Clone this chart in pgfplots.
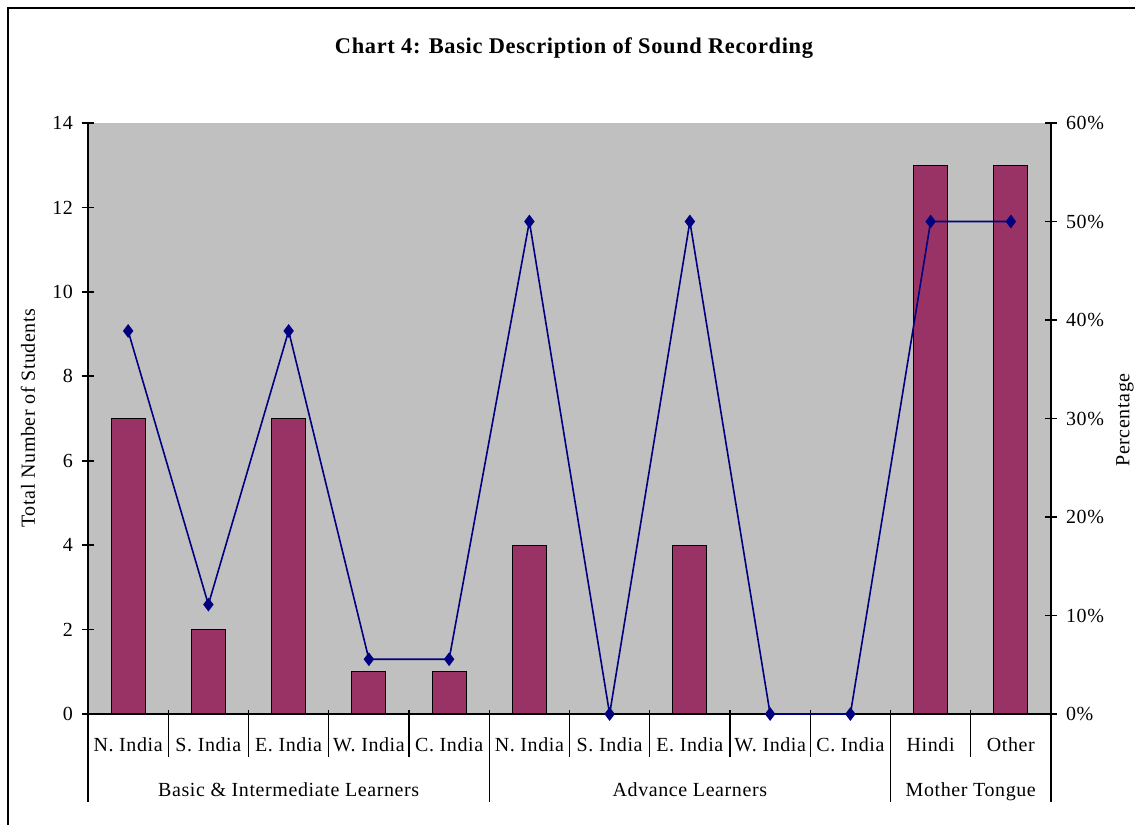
\documentclass[border=0pt]{standalone}
\usepackage{fontspec}
\setmainfont[LetterSpace=3]{Liberation Serif}
\usepackage{pgfplots}
\pgfplotsset{compat=1.18}
\definecolor{barc}{HTML}{993366}
\definecolor{linec}{HTML}{000080}
\definecolor{bg}{HTML}{C0C0C0}
\begin{document}
\begin{tikzpicture}[font=\fontsize{10}{12}\selectfont]
\useasboundingbox (0,0) rectangle (567.5pt,412.5pt);
\draw[line width=1pt] (4pt,0) -- (4pt,408.5pt) -- (567.5pt,408.5pt);
\node[font=\bfseries\fontsize{11.2}{13}\selectfont] at (287pt,388.5pt) {Chart 4: Basic Description of Sound Recording};
\node[rotate=90] at (14pt,203.5pt) {Total Number of Students};
\node[rotate=90] at (562.5pt,202.5pt) {Percentage};
\begin{axis}[
  at={(44pt,55.5pt)}, anchor=south west, scale only axis,
  width=481.5pt, height=295.5pt,
  xmin=-0.5, xmax=11.5, ymin=0, ymax=14,
  ytick={0,2,...,14}, xtick=\empty,
  axis y line*=left, axis x line*=bottom, axis line style={-, line width=0.8pt},
  axis background/.style={fill=bg},
  tick align=center, major tick length=6pt,
  tick style={black, line width=0.8pt},
  /pgf/number format/assume math mode=true,
  yticklabel style={font=\fontsize{10}{12}\selectfont, xshift=-1pt},
  clip=false,
]
\addplot[ybar, bar width=0.424, fill=barc, draw=black, line width=0.6pt] coordinates {
(0,7) (1,2) (2,7) (3,1) (4,1) (5,4) (6,0) (7,4) (8,0) (9,0) (10,13) (11,13)};
% separators
\draw[line width=0.6pt] (axis cs:-0.5,0) -- ([yshift=-44pt]axis cs:-0.5,0);
\draw[line width=0.6pt] ([yshift=2pt]axis cs:0.5,0) -- ([yshift=-21.5pt]axis cs:0.5,0);
\draw[line width=0.6pt] ([yshift=2pt]axis cs:1.5,0) -- ([yshift=-21.5pt]axis cs:1.5,0);
\draw[line width=0.6pt] ([yshift=2pt]axis cs:2.5,0) -- ([yshift=-21.5pt]axis cs:2.5,0);
\draw[line width=0.6pt] ([yshift=2pt]axis cs:3.5,0) -- ([yshift=-21.5pt]axis cs:3.5,0);
\draw[line width=0.6pt] ([yshift=2pt]axis cs:4.5,0) -- ([yshift=-44pt]axis cs:4.5,0);
\draw[line width=0.6pt] ([yshift=2pt]axis cs:5.5,0) -- ([yshift=-21.5pt]axis cs:5.5,0);
\draw[line width=0.6pt] ([yshift=2pt]axis cs:6.5,0) -- ([yshift=-21.5pt]axis cs:6.5,0);
\draw[line width=0.6pt] ([yshift=2pt]axis cs:7.5,0) -- ([yshift=-21.5pt]axis cs:7.5,0);
\draw[line width=0.6pt] ([yshift=2pt]axis cs:8.5,0) -- ([yshift=-21.5pt]axis cs:8.5,0);
\draw[line width=0.6pt] ([yshift=2pt]axis cs:9.5,0) -- ([yshift=-44pt]axis cs:9.5,0);
\draw[line width=0.6pt] ([yshift=2pt]axis cs:10.5,0) -- ([yshift=-21.5pt]axis cs:10.5,0);
\draw[line width=0.6pt] ([yshift=2pt]axis cs:11.5,0) -- ([yshift=-44pt]axis cs:11.5,0);
% category labels
\node[anchor=base] at ([yshift=-18.5pt]axis cs:0,0) {N. India};
\node[anchor=base] at ([yshift=-18.5pt]axis cs:1,0) {S. India};
\node[anchor=base] at ([yshift=-18.5pt]axis cs:2,0) {E. India};
\node[anchor=base] at ([yshift=-18.5pt]axis cs:3,0) {W. India};
\node[anchor=base] at ([yshift=-18.5pt]axis cs:4,0) {C. India};
\node[anchor=base] at ([yshift=-18.5pt]axis cs:5,0) {N. India};
\node[anchor=base] at ([yshift=-18.5pt]axis cs:6,0) {S. India};
\node[anchor=base] at ([yshift=-18.5pt]axis cs:7,0) {E. India};
\node[anchor=base] at ([yshift=-18.5pt]axis cs:8,0) {W. India};
\node[anchor=base] at ([yshift=-18.5pt]axis cs:9,0) {C. India};
\node[anchor=base] at ([yshift=-18.5pt]axis cs:10,0) {Hindi};
\node[anchor=base] at ([yshift=-18.5pt]axis cs:11,0) {Other};
\node[anchor=base] at ([yshift=-41pt]axis cs:2,0) {Basic \& Intermediate Learners};
\node[anchor=base] at ([yshift=-41pt]axis cs:7,0) {Advance Learners};
\node[anchor=base] at ([yshift=-41pt]axis cs:10.5,0) {Mother Tongue};
\end{axis}
\begin{axis}[
  at={(44pt,55.5pt)}, anchor=south west, scale only axis,
  width=481.5pt, height=295.5pt,
  xmin=-0.5, xmax=11.5, ymin=0, ymax=60,
  ytick={0,10,...,60}, xtick=\empty,
  axis y line*=right, axis x line=none, axis line style={-, line width=0.8pt},
  tick align=center, major tick length=6pt,
  tick style={black, line width=0.8pt},
  /pgf/number format/assume math mode=true,
  yticklabel={\pgfmathprintnumber{\tick}\%},
  yticklabel style={font=\fontsize{10}{12}\selectfont, xshift=1pt},
  clip=false,
]
\addplot[linec, line width=0.8pt, mark=diamond*, mark size=2.8pt, mark options={fill=linec, draw=linec}] coordinates {
(0,38.89) (1,11.11) (2,38.89) (3,5.56) (4,5.56) (5,50) (6,0) (7,50) (8,0) (9,0) (10,50) (11,50)};
\end{axis}
\end{tikzpicture}
\end{document}
